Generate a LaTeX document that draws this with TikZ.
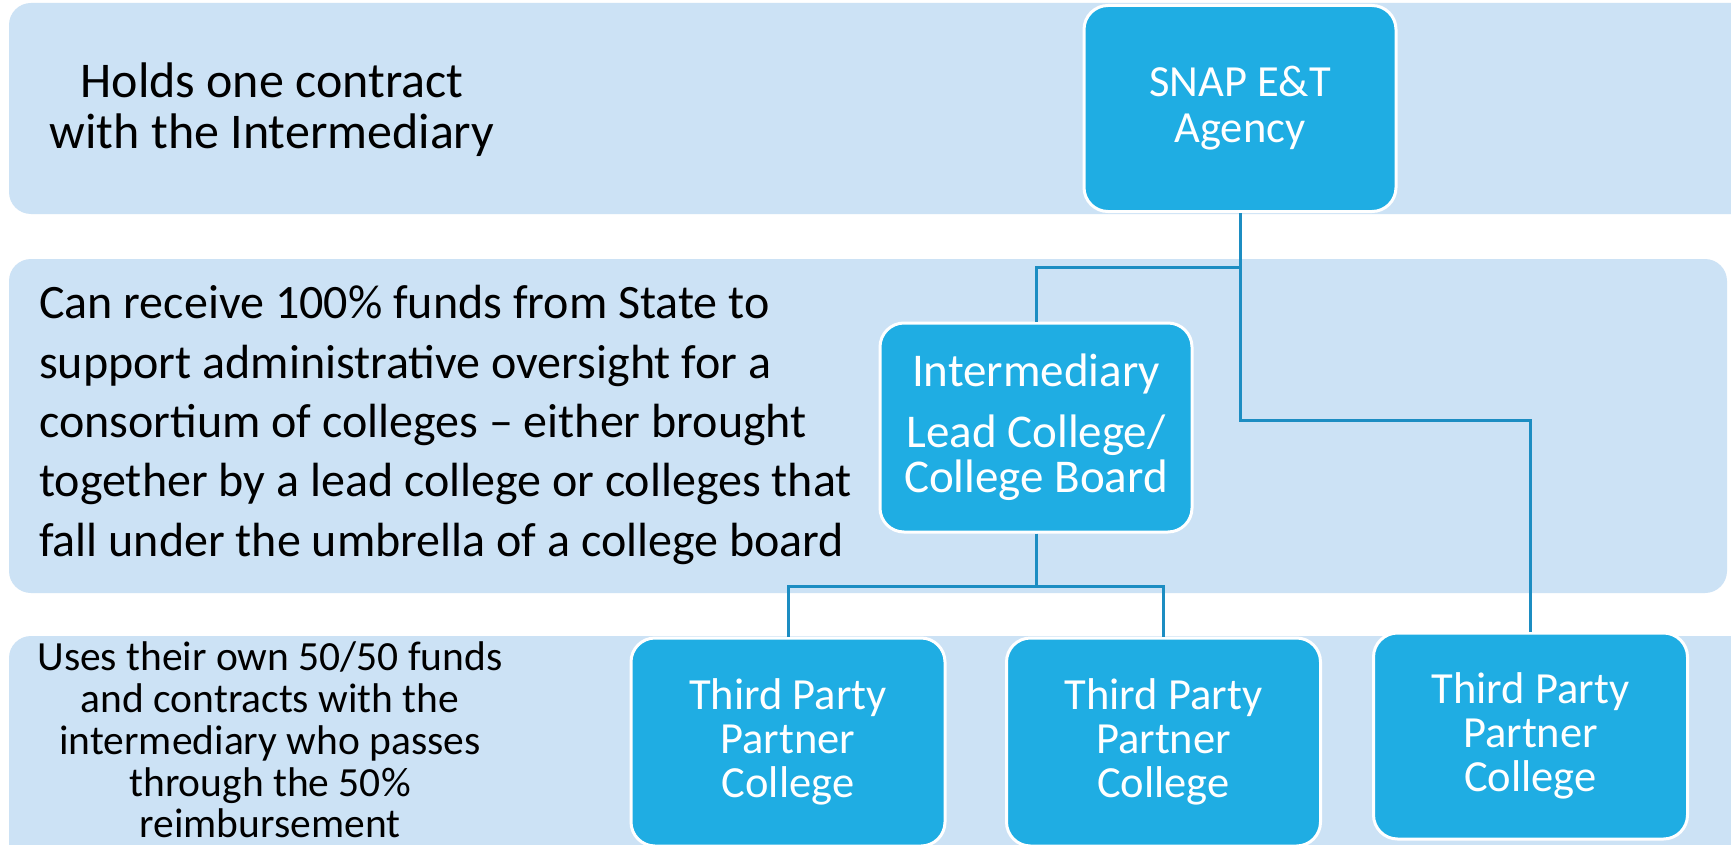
\documentclass[tikz,border=0pt]{standalone}
\usepackage{fontspec}
\setmainfont{Carlito}
\definecolor{bandblue}{HTML}{CCE2F5}
\definecolor{boxblue}{HTML}{1FADE3}
\definecolor{linkblue}{HTML}{1C8DC2}
\tikzset{
  band/.style={fill=bandblue, draw=none, rounded corners=22pt},
  orgbox/.style={draw=white, line width=3pt, fill=boxblue, rounded corners=24pt,
    minimum width=312pt, minimum height=206pt, inner sep=0pt, text=white, align=center,
    font=\fontsize{44.5}{44}\selectfont},
  conn/.style={draw=linkblue, line width=3pt},
  note/.style={inner sep=0pt, text=black}
}
\begin{document}
\begin{tikzpicture}[x=1pt,y=-1pt]
\useasboundingbox (0,0) rectangle (1731,845);
\clip (0,0) rectangle (1731,845);
\fill[white] (0,0) rectangle (1731,845);
% bands
\path[band] (9,3) rectangle (1780,214);
\path[band] (9,259) rectangle (1727,593);
\path[band] (9,636) rectangle (1780,900);
% texts
\node[note, align=center, font=\fontsize{50}{51}\selectfont] (t1) at (272,110)
  {Holds one contract\\with the Intermediary};
\node[note, align=left, anchor=west, font=\fontsize{48}{59.3}\selectfont] (t2) at (39,425)
  {Can receive 100\% funds from State to\\support administrative oversight for a\\consortium of colleges -- either brought\\together by a lead college or colleges that\\fall under the umbrella of a college board};
\node[note, align=center, font=\fontsize{41.5}{41.8}\selectfont] (t3) at (270,740)
  {Uses their own 50/50 funds\\and contracts with the\\intermediary who passes\\through the 50\%\\reimbursement};
% boxes
\node[orgbox] (snap) at (1240,108.5) {SNAP E\&T\\[2pt]Agency};
\node[orgbox, minimum height=209pt, font=\fontsize{47}{45}\selectfont] (inter) at (1036,427.5) {Intermediary\\[16pt]Lead College/\\College Board};
\node[orgbox, minimum width=314pt, minimum height=208pt] (tp1) at (788,742) {Third Party\\Partner\\College};
\node[orgbox, minimum width=314pt, minimum height=208pt] (tp2) at (1163.5,742) {Third Party\\Partner\\College};
\node[orgbox, minimum width=314pt] (tp3) at (1530.5,736) {Third Party\\Partner\\College};
% connectors
\coordinate (j1) at (1240,267);
\coordinate (j2) at (1240,420);
\coordinate (j3) at (1036,586);
\draw[conn] (snap.south) -- (j2) -| (tp3.north);
\draw[conn] (j1) -| (inter.north);
\draw[conn] (inter.south) -- (j3);
\draw[conn] (tp1.north) |- (j3) -| (tp2.north);
\end{tikzpicture}
\end{document}
